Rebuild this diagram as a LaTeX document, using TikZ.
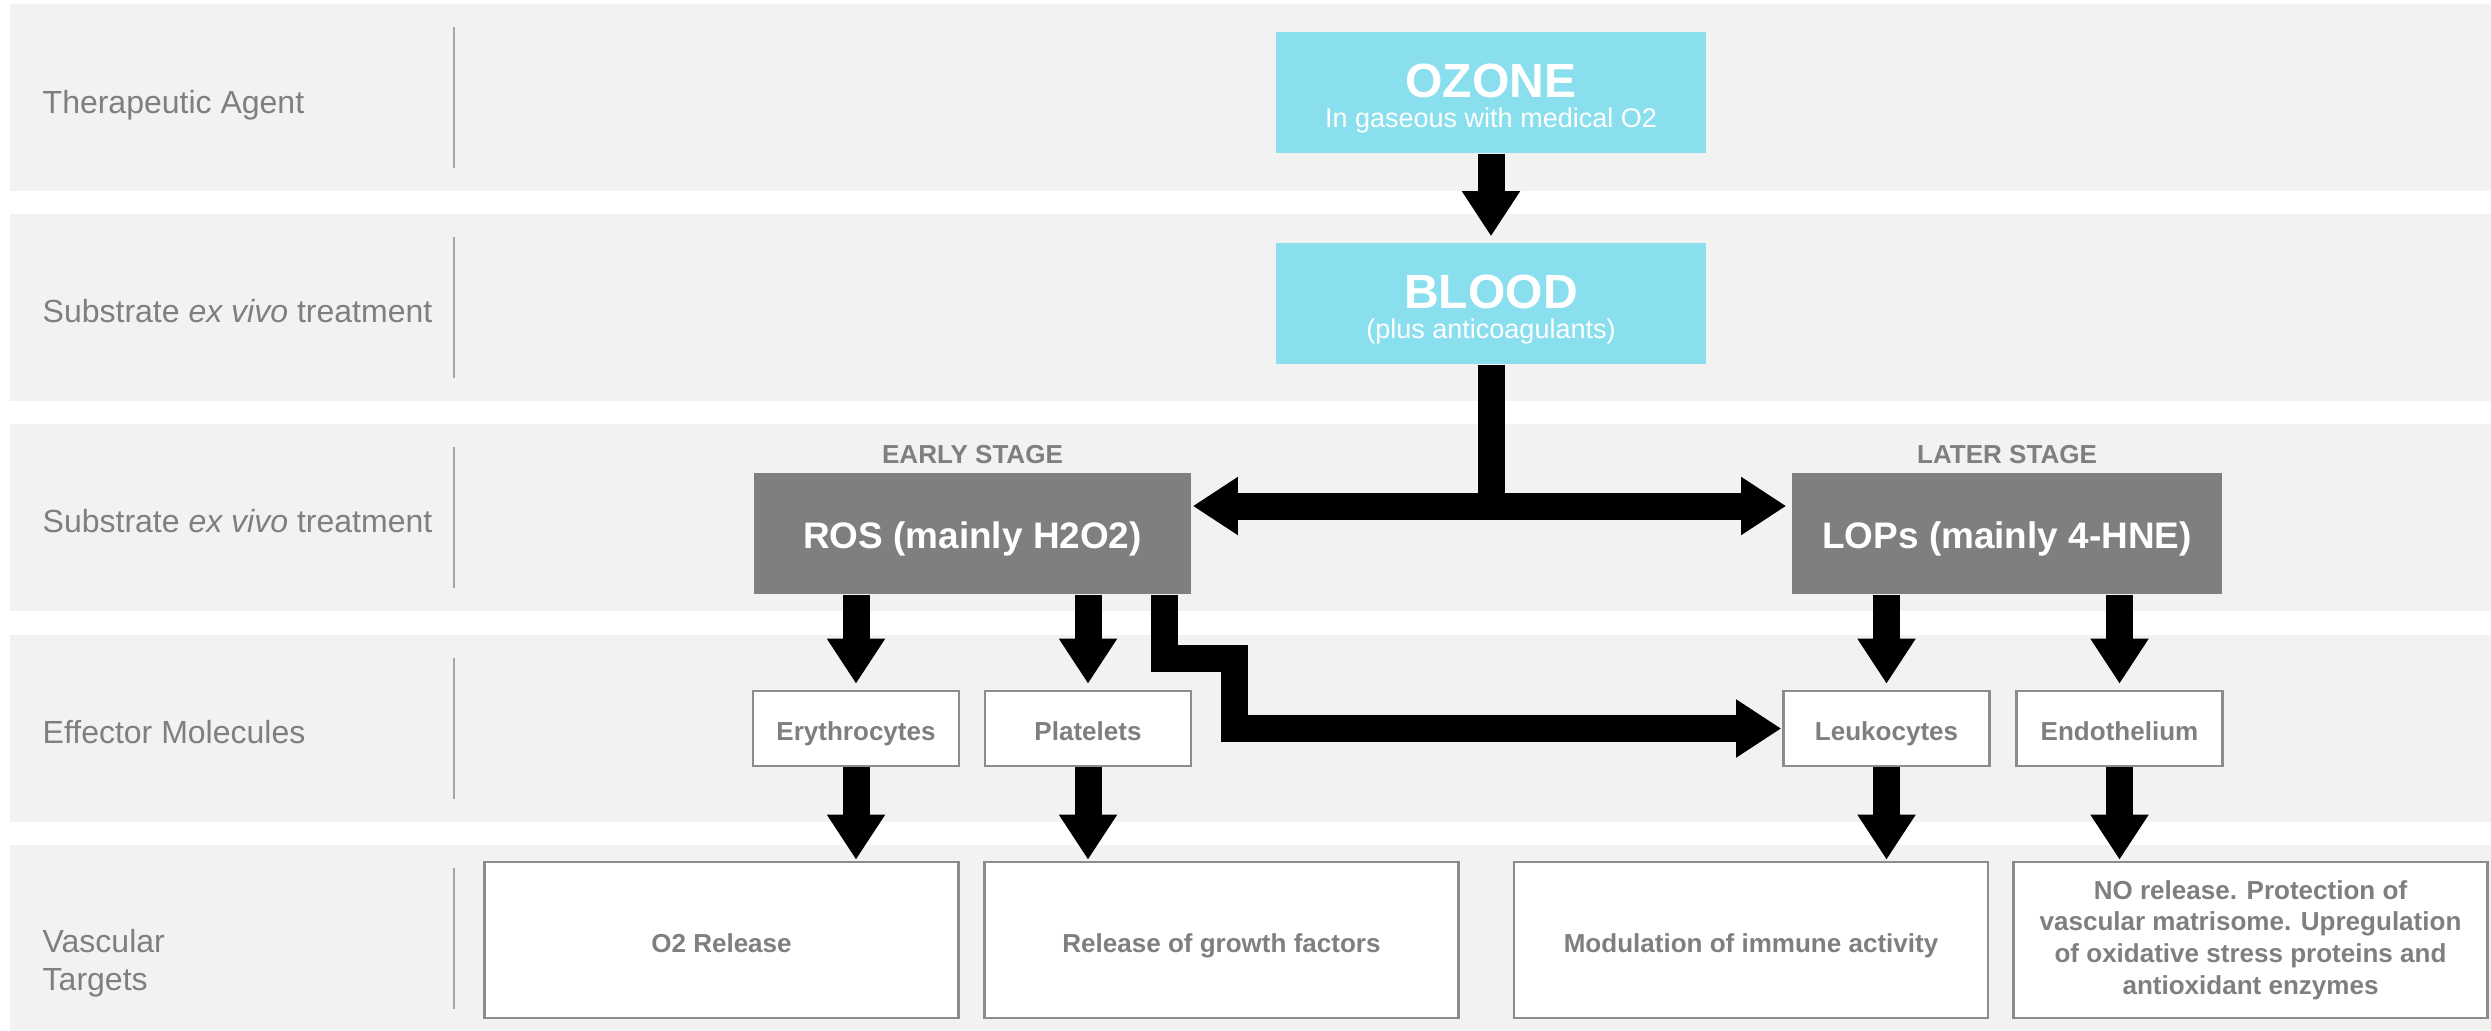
\documentclass[tikz,border=0pt]{standalone}
\usepackage{fontspec}
\setmainfont{Liberation Sans}
\usetikzlibrary{arrows.meta}
\definecolor{bandgray}{HTML}{F2F2F2}
\definecolor{sepgray}{HTML}{A6A6A6}
\definecolor{txtgray}{HTML}{7F7F7F}
\definecolor{cyanfill}{HTML}{89DFEE}
\definecolor{darkfill}{HTML}{7F7F7F}
\definecolor{edgegray}{HTML}{8C8C8C}
\begin{document}
\begin{tikzpicture}[x=0.01cm,y=-0.01cm,
  band/.style={fill=bandgray},
  sepline/.style={draw=sepgray,line width=0.02cm},
  rowlabel/.style={anchor=base west,inner sep=0pt,text=txtgray,font=\fontsize{9.1pt}{10.8pt}\selectfont},
  topbox/.style={fill=cyanfill,minimum width=4.30cm,minimum height=1.21cm,inner sep=0pt,text=white,align=center,font=\fontsize{7.68pt}{8.4pt}\selectfont},
  stagebox/.style={fill=darkfill,minimum height=1.21cm,inner sep=0pt,text=white,font=\fontsize{10.5pt}{12pt}\selectfont\bfseries,text height=0.304cm,text depth=0pt},
  stagelabel/.style={text=txtgray,inner sep=0pt,font=\fontsize{7.4pt}{8.5pt}\selectfont\bfseries},
  effbox/.style={draw=edgegray,line width=0.025cm,fill=white,minimum width=2.06cm,minimum height=0.75cm,inner sep=0pt,text=txtgray,font=\fontsize{7.4pt}{8.5pt}\selectfont\bfseries,text height=0.236cm,text depth=0pt},
  tgtbox/.style={draw=edgegray,line width=0.025cm,fill=white,minimum width=4.74cm,minimum height=1.56cm,inner sep=0pt,text=txtgray,font=\fontsize{7.4pt}{8.96pt}\selectfont\bfseries},
  capmid/.style={text height=0.246cm,text depth=0pt},
  fat/.style={line width=0.27cm,draw=black},
  fatarrow/.style={fat,-{Triangle[length=0.45cm,width=0.55cm]},shorten >=0.06cm},
]
\useasboundingbox (0,0) rectangle (2491,1030);
% bands and separators
\foreach \t/\b in {4/191,214/401,424/611,635/822,845/1032} {
  \fill[band] (10,\t) rectangle (2491,\b);
  \draw[sepline] (454,{\t+23}) -- (454,{\b-23});
}
% row labels
\node[rowlabel] (lab1) at (42,113) {Therapeutic Agent};
\node[rowlabel] (lab2) at (42,322.5) {Substrate \textit{ex vivo} treatment};
\node[rowlabel] (lab3) at (42,532.5) {Substrate \textit{ex vivo} treatment};
\node[rowlabel] (lab4) at (42,743.5) {Effector Molecules};
\node[rowlabel,anchor=north west,align=left] (lab5) at (42,929) {Vascular\\Targets};
% main boxes
\node[topbox] (ozone) at (1491,92.5) {\rule{0pt}{0.455cm}{\fontsize{13.66pt}{8.4pt}\selectfont\bfseries OZONE}\\In gaseous with medical O2};
\node[topbox] (blood) at (1491,303.5) {\rule{0pt}{0.455cm}{\fontsize{13.66pt}{8.4pt}\selectfont\bfseries BLOOD}\\(plus anticoagulants)};
\node[stagebox,minimum width=4.37cm] (ros) at (972.5,533.5) {ROS (mainly H2O2)};
\node[stagebox,minimum width=4.30cm] (lops) at (2007,533.5) {LOPs (mainly 4-HNE)};
\node[stagelabel] (early) at ([yshift=0.18cm]ros.north) {EARLY STAGE};
\node[stagelabel] (later) at ([yshift=0.18cm]lops.north) {LATER STAGE};
% effectors
\node[effbox] (ery) at (856,728.5) {Erythrocytes};
\node[effbox] (plt) at (1088,728.5) {Platelets};
\node[effbox] (leu) at (1886.5,728.5) {Leukocytes};
\node[effbox] (endo) at (2119.5,728.5) {Endothelium};
% targets
\node[tgtbox,capmid] (o2) at (721.5,940) {O2 Release};
\node[tgtbox,capmid] (gf) at (1221.5,940) {Release of growth factors};
\node[tgtbox,capmid] (mod) at (1751,940) {Modulation of immune activity};
\node[tgtbox,align=center] (no) at (2250.5,940) {NO release. Protection of\\vascular matrisome. Upregulation\\of oxidative stress proteins and\\antioxidant enzymes};
% connectors
\draw[fatarrow] (ozone) -- (blood);
\coordinate (split) at (1491,506);
\draw[fat] (blood.south) -- (split);
\draw[fat,{Triangle[length=0.45cm,width=0.55cm]}-{Triangle[length=0.45cm,width=0.55cm]},shorten <=0.01cm,shorten >=0.05cm] (ros.east |- split) -- (lops.west |- split);
\draw[fatarrow] (ros.south -| ery) -- (ery);
\draw[fatarrow] (ros.south -| plt) -- (plt);
\draw[fatarrow] (lops.south -| leu) -- (leu);
\draw[fatarrow] (lops.south -| endo) -- (endo);
\coordinate (bendA) at (1164.5,658.5);
\coordinate (bendB) at (1234.5,658.5);
\draw[fatarrow,shorten >=0.01cm] (ros.south -| bendA) -- (bendA) -- (bendB) |- (leu.west);
\draw[fatarrow,shorten >=0.01cm] (ery) -- (ery |- o2.north);
\draw[fatarrow,shorten >=0.01cm] (plt) -- (plt |- gf.north);
\draw[fatarrow,shorten >=0.01cm] (leu) -- (leu |- mod.north);
\draw[fatarrow,shorten >=0.01cm] (endo) -- (endo |- no.north);
\end{tikzpicture}
\end{document}
